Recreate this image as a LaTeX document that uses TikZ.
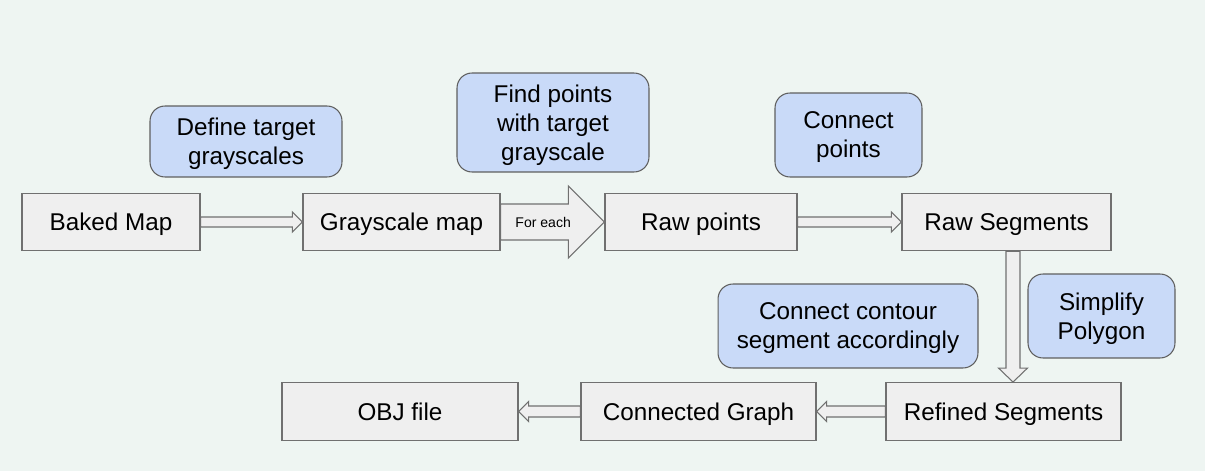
\documentclass[tikz,border=0pt]{standalone}
\usepackage{fontspec}
\setmainfont{Liberation Sans}
\usetikzlibrary{calc}
\definecolor{bgcol}{HTML}{EEF5F2}
\definecolor{boxfill}{HTML}{EFEFEF}
\definecolor{boxline}{HTML}{707070}
\definecolor{notefill}{HTML}{C9DAF8}
\definecolor{noteline}{HTML}{5F5F5F}
% block arrow: from, to, shaft half width, head half width, head length
\newcommand{\blockarrow}[5]{%
  \coordinate (ba-h) at ($(#2)!#5!(#1)$);
  \draw[flowarrow] ($(#1)!#3!90:(#2)$)--($(ba-h)!#3!-90:(#1)$)--($(ba-h)!#4!-90:(#1)$)--(#2)
    --($(ba-h)!#4!90:(#1)$)--($(ba-h)!#3!90:(#1)$)--($(#1)!#3!-90:(#2)$)--cycle;
}

\begin{document}
\begin{tikzpicture}[x=0.02cm,y=0.02cm,
    font=\fontsize{13.8}{16.5}\selectfont,
    stepbox/.style={draw=boxline,fill=boxfill,line width=0.8pt,inner sep=0pt,minimum height=1.15cm,text height=9.9pt,text depth=0pt},
    note/.style={draw=noteline,fill=notefill,line width=0.6pt,rounded corners=0.3cm,inner sep=0pt,align=center,text depth=0pt},
    flowarrow/.style={draw=boxline,fill=boxfill,line width=0.6pt,line join=miter}]
            \fill[bgcol] (0,0) rectangle (1205,471);
            \useasboundingbox (0,0) rectangle (1205,471);
            % main row
            \node[stepbox,minimum width=3.56cm] (baked) at (111,249) {Baked Map};
            \node[stepbox,minimum width=3.94cm] (gray) at (401.5,249) {Grayscale map};
            \node[stepbox,minimum width=3.84cm] (raw) at (701,249) {Raw points};
            \node[stepbox,minimum width=4.18cm] (rawseg) at (1006.5,249) {Raw Segments};
            % bottom row
            \node[stepbox,minimum width=4.7cm] (refined) at (1003.5,59.5) {Refined Segments};
            \node[stepbox,minimum width=4.7cm] (graph) at (698.5,59.5) {Connected Graph};
            \node[stepbox,minimum width=4.72cm] (obj) at (400,59.5) {OBJ file};
            % notes
            \node[note,minimum width=3.84cm,minimum height=1.42cm] (define) at (246,329.5) {Define target\\grayscales};
            \node[note,minimum width=3.84cm,minimum height=1.98cm] (find) at (553,348.5) {Find points\\with target\\grayscale};
            \node[note,minimum width=2.94cm,minimum height=1.68cm] (connect) at (848.5,336) {Connect\\points};
            \node[note,minimum width=2.94cm,minimum height=1.68cm] (simplify) at (1101.5,155) {Simplify\\Polygon};
            \node[note,minimum width=5.2cm,minimum height=1.68cm] (contour) at (848,145) {Connect contour\\segment accordingly};
            % arrows
            \blockarrow{baked.east}{gray.west}{0.1cm}{0.2cm}{0.2cm}
            \blockarrow{gray.east}{raw.west}{0.36cm}{0.72cm}{0.72cm}
            \blockarrow{raw.east}{rawseg.west}{0.1cm}{0.2cm}{0.2cm}
            \coordinate (downstart) at ($(rawseg.south)+(6.5,0)$);
            \coordinate (downend) at (downstart |- refined.north);
            \blockarrow{downstart}{downend}{0.14cm}{0.29cm}{0.28cm}
            \blockarrow{refined.west}{graph.east}{0.11cm}{0.2cm}{0.2cm}
            \blockarrow{graph.west}{obj.east}{0.11cm}{0.2cm}{0.2cm}
            \node[font=\fontsize{8}{9}\selectfont] (foreach) at ($(gray.east)!0.41!(raw.west)$) {For each};
        \end{tikzpicture}
\end{document}
